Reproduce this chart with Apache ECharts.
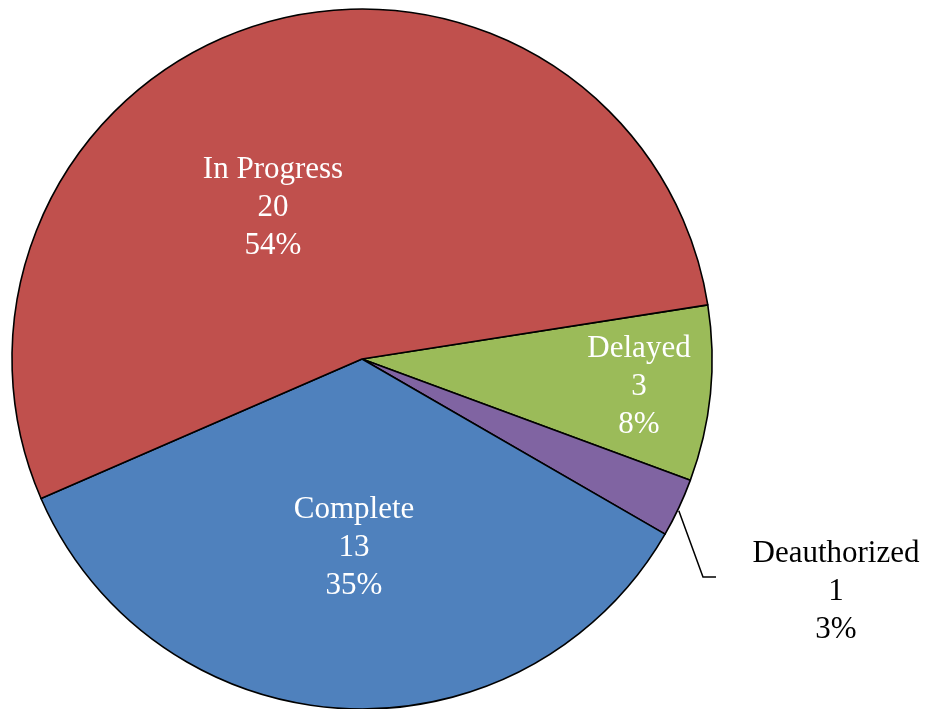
<!DOCTYPE html>
<html>
<head>
<meta charset="utf-8">
<script src="https://cdn.jsdelivr.net/npm/echarts@6/dist/echarts.min.js"></script>
<style>html,body{margin:0;padding:0;background:#fff;}#c{width:926px;height:709px;}</style>
</head>
<body>
<div id="c"></div>
<script>
const categories = ['Delayed', 'Deauthorized', 'Complete', 'In Progress'];
const values = [3, 1, 13, 20];
const colors = ['#9BBB59', '#8064A2', '#4F81BD', '#C0504D'];
const outsideLabel = [false, true, false, false];

// label block centres (layout only)
const labelPos = [[639, 387], [836, 592], [354, 548], [273, 208]];

const chart = echarts.init(document.getElementById('c'), null, {renderer: 'canvas'});
const data = categories.map((name, i) => ({
  name: name,
  value: values[i],
  itemStyle: {color: colors[i]},
  label: {
    position: outsideLabel[i] ? 'outside' : 'inside',
    color: outsideLabel[i] ? '#000' : '#fff'
  },
  labelLine: {show: outsideLabel[i]}
}));

chart.setOption({
  animation: false,
  backgroundColor: '#fff',
  series: [{
    type: 'pie',
    center: [362, 359],
    radius: 350,
    startAngle: 8.9,
    clockwise: true,
    percentPrecision: 0,
    avoidLabelOverlap: false,
    itemStyle: {borderColor: '#000', borderWidth: 1.6},
    emphasis: {disabled: true},
    label: {
      show: true,
      formatter: '{b}\n{c}\n{d}%',
      fontFamily: 'Liberation Serif',
      fontSize: 31,
      lineHeight: 38,
      align: 'center'
    },
    labelLine: {lineStyle: {color: '#000', width: 1.5}, length: 20, length2: 12},
    labelLayout: function (p) {
      const pos = labelPos[p.dataIndex];
      const res = {x: pos[0], y: pos[1], align: 'center', verticalAlign: 'middle'};
      if (outsideLabel[p.dataIndex] && p.labelLinePoints) {
        const s = p.labelLinePoints[0];
        res.labelLinePoints = [[s[0], s[1] + 3], [703, 577], [716, 577]];
      }
      return res;
    },
    data: data
  }]
});
</script>
</body>
</html>
